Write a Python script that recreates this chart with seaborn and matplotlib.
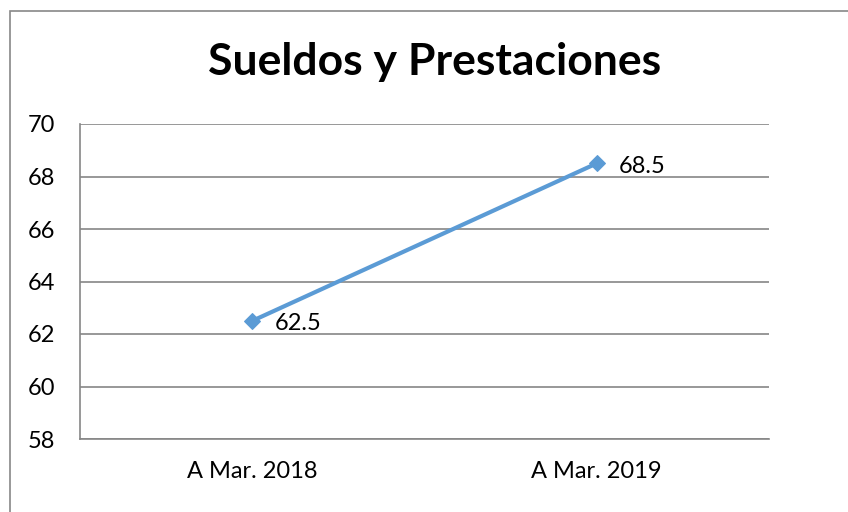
import matplotlib
matplotlib.use("Agg")
import matplotlib.pyplot as plt
import seaborn as sns
import pandas as pd
from matplotlib.patches import Rectangle

# datos
periodos = ["A Mar. 2018", "A Mar. 2019"]
valores = [62.5, 68.5]
y_ticks = [58, 60, 62, 64, 66, 68, 70]

df = pd.DataFrame({"periodo": periodos, "valor": valores})

sns.set_style("white")
plt.rcParams['font.family'] = ['Lato', 'DejaVu Sans']

fig = plt.figure(figsize=(8.48, 5.12), dpi=100)
ax = fig.add_axes([80 / 848, 1 - 439 / 512, 689 / 848, 315 / 512])

sns.lineplot(data=df, x="periodo", y="valor", ax=ax, color="#5B9BD5",
             linewidth=3, marker="D", markersize=8, markeredgecolor="#5B9BD5")

for i, v in enumerate(valores):
    ax.annotate(f"{v:g}", (i, v), xytext=(22, -3), textcoords="offset pixels",
                ha="left", va="center", fontsize=17, color="black")

ax.set_xlim(-0.5, 1.5)
ax.set_ylim(58, 70)
ax.set_yticks(y_ticks)
ax.yaxis.grid(True, color="#868686", linewidth=1.2)
ax.set_xlabel("")
ax.set_ylabel("")
ax.tick_params(axis="both", length=0, labelsize=17, colors="black")
ax.tick_params(axis="y", pad=18)
ax.tick_params(axis="x", pad=16)
for s in ["top", "right"]:
    ax.spines[s].set_visible(False)
for s in ["left", "bottom"]:
    ax.spines[s].set_color("#868686")
    ax.spines[s].set_linewidth(1.2)

fig.text(435 / 848, 1 - 62 / 512, "Sueldos y Prestaciones", ha="center",
         va="center", fontsize=32, fontweight="bold", color="black")

# borde del grafico
fig.patches.append(Rectangle((10 / 848, -0.2), 1.2, 1.2 - 11 / 512,
                             transform=fig.transFigure, fill=False,
                             edgecolor="#888888", linewidth=1.2))

fig.savefig("out.png", dpi=100)
